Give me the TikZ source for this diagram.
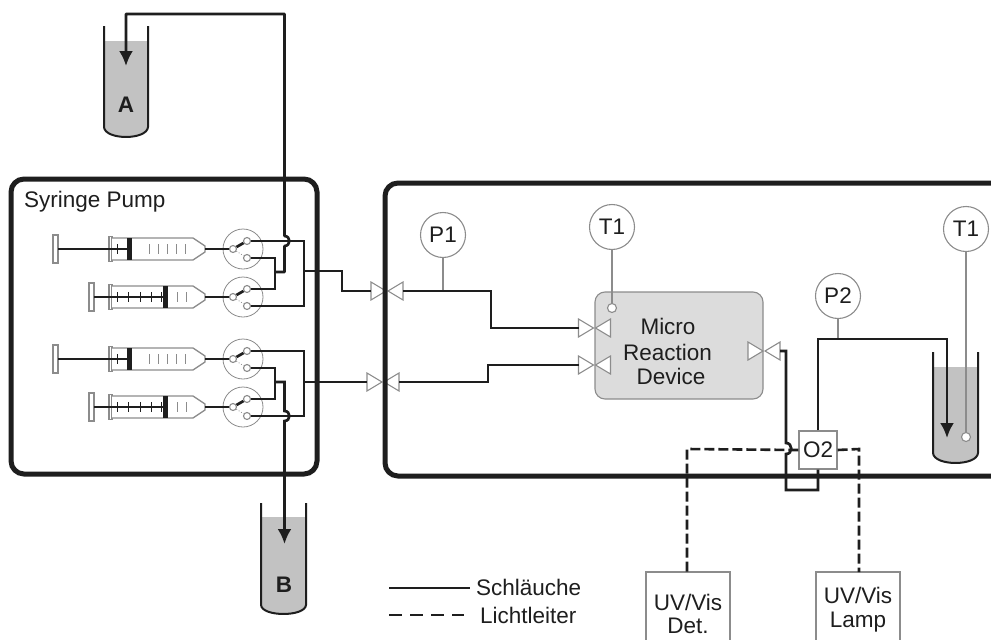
\documentclass[tikz,border=0pt]{standalone}
\usepackage{fontspec}
\setmainfont{Liberation Sans}
\usetikzlibrary{arrows.meta}
\definecolor{ink}{HTML}{1E1E1E}
\definecolor{edge}{HTML}{8C8C8C}
\definecolor{liquid}{HTML}{C2C2C2}
\definecolor{devfill}{HTML}{DCDCDC}
\tikzset{
  x=1pt,y=-1pt,
  tube/.style={draw=ink,line width=2.7pt},
  frame/.style={draw=ink,line width=5pt,rounded corners=13pt},
  fibre/.style={draw=ink,line width=2.6pt,dash pattern=on 10pt off 4pt},
  thin grey/.style={draw=edge,line width=1.3pt},
  tip/.style={-{Latex[length=15pt,width=14pt]}},
  label/.style={font=\fontsize{22.5}{25}\selectfont,text=ink,inner sep=0pt},
  gauge/.style={circle,draw=edge,line width=1.1pt,fill=white,minimum size=45pt,inner sep=0pt,font=\fontsize{22.5}{25}\selectfont,text=ink},
  port/.style={circle,draw=edge,line width=1.1pt,fill=white,minimum size=7pt,inner sep=0pt},
  sensor/.style={circle,draw=edge,line width=1.1pt,fill=white,minimum size=9pt,inner sep=0pt},
  head/.style={circle,draw=edge,line width=.8pt,minimum size=40pt,inner sep=0pt},
  instr/.style={draw=edge,line width=1.1pt,fill=white},
  valvepic/.pic={
    \draw[instr] (-16,-9) -- (-1,0) -- (-16,9) -- cycle;
    \draw[instr] (16,-9) -- (1,0) -- (16,9) -- cycle;
    \coordinate (-l) at (-16,0);
    \coordinate (-r) at (16,0);
  },
}
% name, y, handle x, piston x, tick list before piston, tick list after piston
\newcommand{\syringe}[6]{%
  \draw[thin grey,fill=white] (#3,#2-14) rectangle (#3+5,#2+14);
  \draw[thin grey,fill=white] (109,#2-12.5) rectangle (112,#2+12.5);
  \draw[thin grey,fill=white] (112,#2-11) -- (193,#2-11) -- (205,#2-3) -- (205,#2+3) -- (193,#2+11) -- (112,#2+11);
  \foreach \t in {#5}{\draw[draw=ink,line width=.9pt] (\t,#2-5) -- (\t,#2+5);}
  \foreach \t in {#6}{\draw[draw=edge,line width=1pt] (\t,#2-5) -- (\t,#2+5);}
  \fill[ink] (#4,#2-11) rectangle (#4+5,#2+11);
  \draw[tube] (#3+5,#2) -- (#4,#2);
  \coordinate (#1-tip) at (205,#2);
}
% name, y : rotary head with its three ports
\newcommand{\rotary}[2]{%
  \node[head] (#1) at (243,#2) {};
  \node[port] (#1-c) at (233,#2) {};
  \node[port] (#1-a) at (247,#2-8) {};
  \node[port] (#1-b) at (247,#2+9) {};
  \draw[draw=edge,line width=.8pt,dotted] (#1-c) -- (#1-b);
  \draw[tube] (#1-c) -- (#1-a);
  \draw[tube] (#1-tip) -- (#1-c);
}
% x1,x2,top,liquid,curve,bottom
\newcommand{\vessel}[6]{%
  \fill[liquid] (#1,#4) -- (#1,#5) .. controls (#1+1,#5+1.33*#6-1.33*#5) and (#2-1,#5+1.33*#6-1.33*#5) .. (#2,#5) -- (#2,#4) -- cycle;
  \draw[draw=ink,line width=2pt] (#1,#3) -- (#1,#5) .. controls (#1+1,#5+1.33*#6-1.33*#5) and (#2-1,#5+1.33*#6-1.33*#5) .. (#2,#5) -- (#2,#3);
}
\begin{document}
\begin{tikzpicture}
\useasboundingbox (0,0) rectangle (991,640);
\fill[white] (0,0) rectangle (991,640);

% vessels
\vessel{104}{148}{26}{41}{127}{137}
\vessel{261}{306}{503}{517}{605}{614}
\vessel{933}{978}{352}{367}{453}{463}
\node[label,font=\fontsize{22.5}{25}\selectfont\bfseries] (la) at (126,105) {A};
\node[label,font=\fontsize{22.5}{25}\selectfont\bfseries] (lb) at (284,585) {B};

% micro reaction device
\node[draw=edge,line width=1.1pt,fill=devfill,rounded corners=10pt,minimum width=168pt,minimum height=107pt,inner sep=0pt] (mrd) at (679,345.5) {};
\node[label] (mrd1) at (668,326) {Micro};
\node[label] (mrd2) at (667.5,352) {Reaction};
\node[label] (mrd3) at (671,376) {Device};

% syringes and rotary heads
\syringe{u1}{249}{53}{127}{117}{149,158,167,176,185}
\syringe{u2}{297}{89}{163}{117,128,140,151,161}{177,186}
\syringe{d1}{359}{53}{127}{117}{149,158,167,176,185}
\syringe{d2}{407}{89}{163}{117,128,140,151,161}{177,186}
\rotary{u1}{249}
\rotary{u2}{297}
\rotary{d1}{359}
\rotary{d2}{407}

% valves
\pic (v1) at (387,291) {valvepic};
\pic (v2) at (383,382) {valvepic};
\pic (v3) at (594.5,328) {valvepic};
\pic (v4) at (594.5,365) {valvepic};
\pic (v5) at (764,351) {valvepic};

% gauges
\node[gauge] (p1) at (443,235) {P1};
\node[gauge] (t1) at (612,227) {T1};
\node[gauge] (p2) at (838,296) {P2};
\node[gauge] (t2) at (966,229) {T1};
\node[sensor] (s1) at (612,308) {};
\node[sensor] (s2) at (966,437) {};
\coordinate (jp1) at (443,291);
\coordinate (jp2) at (838,339);
\draw[thin grey] (p1) -- (jp1);
\draw[thin grey] (t1) -- (s1);
\draw[thin grey] (p2) -- (jp2);
\draw[thin grey] (t2) -- (s2);

% O2 and instruments
\node[instr,minimum size=38pt,inner sep=0pt,font=\fontsize{22.5}{25}\selectfont,text=ink] (o2) at (818,450) {O2};
\coordinate (detnw) at (646,572);
\coordinate (detne) at (730,572);
\coordinate (lampnw) at (816,572);
\coordinate (lampne) at (900,572);
\coordinate (dettop) at (687,572);
\coordinate (lamptop) at (859,572);
\draw[thin grey] (646,640) -- (detnw) -- (detne) -- (730,640);
\draw[thin grey] (816,640) -- (lampnw) -- (lampne) -- (900,640);
\node[label] (dett) at (688,602) {UV/Vis};
\node[label] (dett2) at (688,626) {Det.};
\node[label] (lampt) at (858,595) {UV/Vis};
\node[label] (lampt2) at (858,622) {Lamp};

% tubing, pump side
\coordinate (jup) at (275,272);
\coordinate (jur) at (304,271);
\coordinate (jdn) at (275,382);
\coordinate (jdr) at (304,382);
\draw[tube] (u1-a.east) -- (304,241) -- (304,306) -- (u2-b.east);
\draw[tube] (u1-b.east) -- (275,258) -- (275,289) -- (u2-a.east);
\draw[tube] (d1-a.east) -- (304,351) -- (304,416) -- (d2-b.east);
\draw[tube] (d1-b.east) -- (275,368) -- (275,399) -- (d2-a.east);
\draw[tube,line join=round,tip] (jup) -- (284.5,272) -- (284.5,246) .. controls (291,246) and (291,236) .. (284.5,236) -- (284.5,14) -- (126,14) -- (126,66);
\draw[tube,tip] (jdn) -- (284.5,382) -- (284.5,411) .. controls (291,411) and (291,421) .. (284.5,421) -- (284.5,544);
\draw[tube] (jur) -- (342,271) -- (342,291) -- (v1-l);
\draw[tube] (jdr) -- (v2-l);

% tubing, reactor side
\draw[tube] (v1-r) -- (491,291) -- (491,328) -- (v3-l);
\draw[tube] (v2-r) -- (488,382) -- (488,365) -- (v4-l);
\draw[tube] (v5-r) -- (786,351) -- (786,443) .. controls (793,443) and (793,454) .. (786,454) -- (786,490) -- (818,490) -- (o2.south);
\draw[tube,tip] (o2.north) -- (818,339) -- (947,339) -- (947,438);

% fibres
\draw[fibre] (o2.west) -- (687,449) -- (dettop);
\draw[fibre] (o2.east) -- (859,449) -- (lamptop);

% enclosures
\draw[frame] (11,179) rectangle (317,474);
\draw[frame] (991,183) -- (385,183) -- (385,476) -- (991,476);
\node[label,anchor=west] (sp) at (24,202) {Syringe Pump};

% legend
\coordinate (lg1a) at (389,588);
\coordinate (lg1b) at (470,588);
\coordinate (lg2a) at (389,615);
\coordinate (lg2b) at (464,615);
\node[label,anchor=west] (lg1) at (476,587) {Schläuche};
\node[label,anchor=west] (lg2) at (480,615) {Lichtleiter};
\draw[draw=ink,line width=2pt] (lg1a) -- (lg1b);
\draw[draw=ink,line width=2pt,dash pattern=on 13pt off 8pt] (lg2a) -- (lg2b);
\end{tikzpicture}
\end{document}
